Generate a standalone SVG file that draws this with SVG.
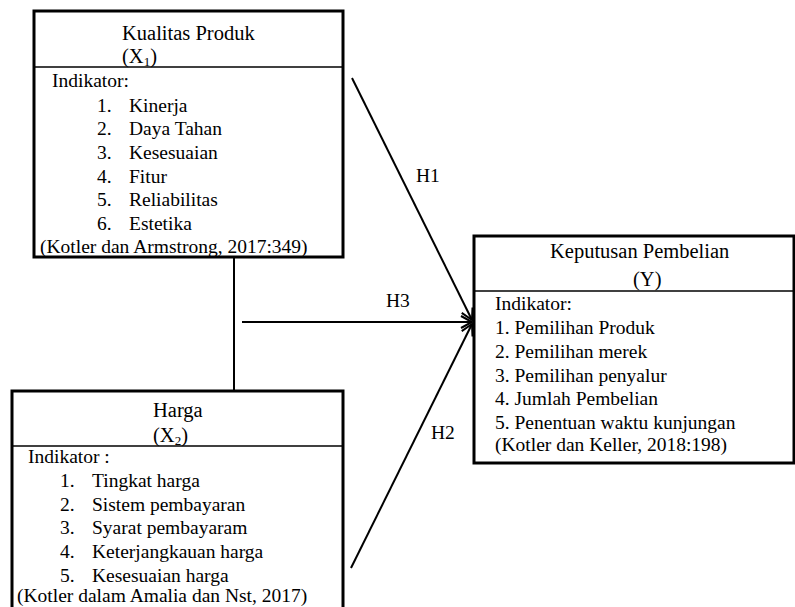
<svg xmlns="http://www.w3.org/2000/svg" width="795" height="607" viewBox="0 0 795 607">
<defs>
<marker id="arr" markerWidth="16" markerHeight="16" refX="13" refY="8" orient="auto" markerUnits="userSpaceOnUse">
<polyline points="2,2 13,8 2,14" fill="none" stroke="#000" stroke-width="2"/>
</marker>
</defs>
<rect width="795" height="607" fill="#fff"/>
<g id="connectors" stroke="#000" stroke-width="2" fill="none">
<line x1="234" y1="258" x2="234" y2="391"/>
<line x1="352" y1="78" x2="472" y2="320" marker-end="url(#arr)"/>
<line x1="242" y1="322" x2="472" y2="322" marker-end="url(#arr)"/>
<line x1="351" y1="568" x2="472" y2="324" marker-end="url(#arr)"/>
</g>
<g id="labels" font-family="Liberation Serif, serif" font-size="19.5" fill="#000">
<text x="416" y="182">H1</text>
<text x="386" y="307">H3</text>
<text x="431" y="439">H2</text>
</g>
<g id="x1" font-family="Liberation Serif, serif" font-size="19.5" fill="#000">
<rect x="34" y="11" width="309" height="246" fill="#fff" stroke="#000" stroke-width="3"/>
<line x1="34" y1="67" x2="343" y2="67" stroke="#000" stroke-width="1.5"/>
<text x="122" y="40" font-size="20.5">Kualitas Produk</text>
<text x="122" y="63" font-size="20.5">(X<tspan font-size="13" dy="3">1</tspan><tspan dy="-3">)</tspan></text>
<text x="52" y="87">Indikator:</text>
<text x="97" y="112">1.</text><text x="129" y="112">Kinerja</text>
<text x="97" y="135">2.</text><text x="129" y="135">Daya Tahan</text>
<text x="97" y="159">3.</text><text x="129" y="159">Kesesuaian</text>
<text x="97" y="183">4.</text><text x="129" y="183">Fitur</text>
<text x="97" y="206">5.</text><text x="129" y="206">Reliabilitas</text>
<text x="97" y="230">6.</text><text x="129" y="230">Estetika</text>
<text x="40" y="253">(Kotler dan Armstrong, 2017:349)</text>
</g>
<g id="x2" font-family="Liberation Serif, serif" font-size="19.5" fill="#000">
<rect x="12" y="391" width="331" height="225" fill="#fff" stroke="#000" stroke-width="3"/>
<line x1="12" y1="446" x2="343" y2="446" stroke="#000" stroke-width="1.5"/>
<text x="153" y="417" font-size="20.5">Harga</text>
<text x="153" y="442" font-size="20.5">(X<tspan font-size="13" dy="3">2</tspan><tspan dy="-3">)</tspan></text>
<text x="28" y="463">Indikator :</text>
<text x="60" y="487">1.</text><text x="92" y="487">Tingkat harga</text>
<text x="60" y="511">2.</text><text x="92" y="511">Sistem pembayaran</text>
<text x="60" y="534">3.</text><text x="92" y="534">Syarat pembayaram</text>
<text x="60" y="558">4.</text><text x="92" y="558">Keterjangkauan harga</text>
<text x="60" y="582">5.</text><text x="92" y="582">Kesesuaian harga</text>
<text x="17" y="602">(Kotler dalam Amalia dan Nst, 2017)</text>
</g>
<g id="y" font-family="Liberation Serif, serif" font-size="19.5" fill="#000">
<rect x="474" y="236" width="320" height="227" fill="#fff" stroke="#000" stroke-width="3"/>
<line x1="474" y1="291" x2="794" y2="291" stroke="#000" stroke-width="1.5"/>
<text x="550" y="258" font-size="20.5">Keputusan Pembelian</text>
<text x="633" y="286" font-size="20.5">(Y)</text>
<text x="495" y="310">Indikator:</text>
<text x="495" y="334">1. Pemilihan Produk</text>
<text x="495" y="358">2. Pemilihan merek</text>
<text x="495" y="382">3. Pemilihan penyalur</text>
<text x="495" y="405">4. Jumlah Pembelian</text>
<text x="495" y="429">5. Penentuan waktu kunjungan</text>
<text x="495" y="451">(Kotler dan Keller, 2018:198)</text>
</g>
</svg>
